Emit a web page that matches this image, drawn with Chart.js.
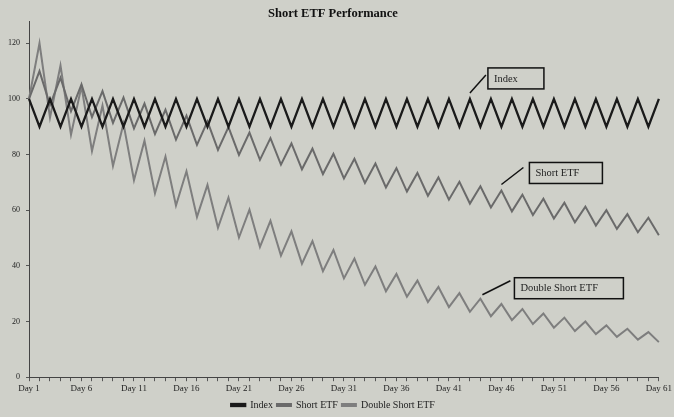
<!DOCTYPE html>
<html>
<head>
<meta charset="utf-8">
<script src="https://cdn.jsdelivr.net/npm/chart.js@4.4.0/dist/chart.umd.min.js"></script>
<style>
  html, body { margin: 0; padding: 0; background: #cfd0c9; }
  #wrap { width: 674px; height: 417px; }
</style>
</head>
<body>
<div id="wrap"><canvas id="etfChart"></canvas></div>
<script>
// Days 1..61
const days = ['Day 1','Day 2','Day 3','Day 4','Day 5','Day 6','Day 7','Day 8','Day 9','Day 10',
  'Day 11','Day 12','Day 13','Day 14','Day 15','Day 16','Day 17','Day 18','Day 19','Day 20',
  'Day 21','Day 22','Day 23','Day 24','Day 25','Day 26','Day 27','Day 28','Day 29','Day 30',
  'Day 31','Day 32','Day 33','Day 34','Day 35','Day 36','Day 37','Day 38','Day 39','Day 40',
  'Day 41','Day 42','Day 43','Day 44','Day 45','Day 46','Day 47','Day 48','Day 49','Day 50',
  'Day 51','Day 52','Day 53','Day 54','Day 55','Day 56','Day 57','Day 58','Day 59','Day 60',
  'Day 61'];

const indexValues = [100,90,100,90,100,90,100,90,100,90,
  100,90,100,90,100,90,100,90,100,90,
  100,90,100,90,100,90,100,90,100,90,
  100,90,100,90,100,90,100,90,100,90,
  100,90,100,90,100,90,100,90,100,90,
  100,90,100,90,100,90,100,90,100,90,
  100];

const shortEtf = [100,110,97.8,107.6,95.6,105.2,93.5,102.8,91.4,100.5,
  89.4,98.3,87.4,96.1,85.4,94.0,83.5,91.9,81.7,89.9,
  79.9,87.9,78.1,85.9,76.4,84.0,74.7,82.1,73.0,80.3,
  71.4,78.5,69.8,76.8,68.2,75.1,66.7,73.4,65.2,71.8,
  63.8,70.2,62.4,68.6,61.0,67.1,59.6,65.6,58.3,64.1,
  57.0,62.7,55.7,61.3,54.5,60.0,53.3,58.6,52.1,57.3,
  51.0];

const doubleShortEtf = [100,120,93.3,112.0,87.1,104.5,81.3,97.6,75.9,91.1,
  70.8,85.0,66.1,79.3,61.7,74.0,57.6,69.1,53.7,64.5,
  50.2,60.2,46.8,56.2,43.7,52.4,40.8,48.9,38.1,45.7,
  35.5,42.6,33.2,39.8,30.9,37.1,28.9,34.7,27.0,32.4,
  25.2,30.2,23.5,28.2,21.9,26.3,20.5,24.5,19.1,22.9,
  17.8,21.4,16.6,20.0,15.5,18.6,14.5,17.4,13.5,16.2,
  12.6];

const yTicks = [0, 20, 40, 60, 80, 100, 120];

// callout boxes: series, day index, label
const callouts = [
  { ds: 0, i: 42, text: 'Index', sx: 0, sy: -6, ex: 16, ey: -24, bx: 18, by: -31, w: 56 },
  { ds: 1, i: 45, text: 'Short ETF', sx: 0, sy: -6, ex: 22, ey: -23, bx: 28, by: -28, w: 73 },
  { ds: 2, i: 43, text: 'Double Short ETF', sx: 2, sy: -4, ex: 30, ey: -18, bx: 34, by: -21, w: 109 }
];

const serif = '"Liberation Serif", "DejaVu Serif", serif';

const calloutPlugin = {
  id: 'callouts',
  afterDatasetsDraw(chart) {
    const ctx = chart.ctx;
    const xs = chart.scales.x, ys = chart.scales.y;
    ctx.save();
    callouts.forEach(c => {
      const val = chart.data.datasets[c.ds].data[c.i];
      const x = xs.getPixelForValue(c.i);
      const y = ys.getPixelForValue(val);
      ctx.strokeStyle = '#111';
      ctx.lineWidth = 1.5;
      ctx.beginPath();
      ctx.moveTo(x + c.sx, y + c.sy);
      ctx.lineTo(x + c.ex, y + c.ey);
      ctx.stroke();
      ctx.strokeRect(x + c.bx, y + c.by, c.w, 21);
      ctx.fillStyle = '#222';
      ctx.font = '10.5px ' + serif;
      ctx.textBaseline = 'middle';
      ctx.fillText(c.text, x + c.bx + 6, y + c.by + 11);
    });
    ctx.restore();
  }
};

new Chart(document.getElementById('etfChart').getContext('2d'), {
  type: 'line',
  data: {
    labels: days,
    datasets: [
      { label: 'Index', data: indexValues, borderColor: '#1a1a1a', backgroundColor: '#1a1a1a', borderWidth: 2.3 },
      { label: 'Short ETF', data: shortEtf, borderColor: '#6a6a6a', backgroundColor: '#3a3a3a', borderWidth: 2 },
      { label: 'Double Short ETF', data: doubleShortEtf, borderColor: '#7e7e7e', backgroundColor: '#3a3a3a', borderWidth: 2 }
    ]
  },
  options: {
    responsive: true,
    maintainAspectRatio: false,
    animation: false,
    elements: { point: { radius: 0 }, line: { tension: 0 } },
    layout: { padding: { left: 2, right: 10, top: 0, bottom: -3 } },
    plugins: {
      title: {
        display: true,
        text: 'Short ETF Performance',
        color: '#111',
        font: { family: serif, size: 12.5, weight: 'bold' },
        padding: { top: 6, bottom: 0 }
      },
      legend: {
        position: 'bottom',
        labels: {
          color: '#222',
          font: { family: serif, size: 10 },
          boxWidth: 14,
          boxHeight: 2,
          padding: 4
        }
      },
      tooltip: { enabled: false }
    },
    scales: {
      x: {
        offset: false,
        border: { color: '#444', width: 1 },
        grid: { drawOnChartArea: false, drawTicks: true, tickLength: 4, color: '#555' },
        ticks: {
          autoSkip: false,
          maxRotation: 0,
          color: '#222',
          padding: 2,
          font: { family: serif, size: 9 },
          callback: (v, i) => (i % 5 === 0 ? days[i] : '')
        }
      },
      y: {
        min: 0,
        max: 128,
        border: { color: '#444', width: 1 },
        grid: { drawOnChartArea: false, drawTicks: true, tickLength: 3, color: '#555' },
        afterBuildTicks: s => { s.ticks = yTicks.map(v => ({ value: v })); },
        ticks: {
          color: '#222',
          padding: 6,
          font: { family: serif, size: 8 }
        }
      }
    }
  },
  plugins: [calloutPlugin]
});
</script>
</body>
</html>
